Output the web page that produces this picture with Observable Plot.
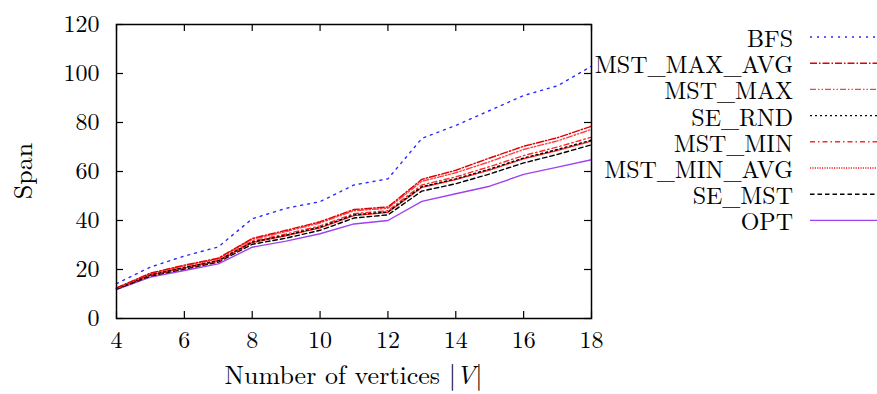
<!DOCTYPE html>
<html><head><meta charset="utf-8">
<script src="https://cdn.jsdelivr.net/npm/d3@7"></script>
<script src="https://cdn.jsdelivr.net/npm/@observablehq/plot@0.6"></script>
<style>
body{margin:0;background:#fff;}
#chart{position:relative;width:877px;height:394px;font-family:"Latin Modern Roman","Liberation Serif",serif;}
#chart svg, #chart svg text, #chart svg tspan{font-family:"Latin Modern Roman","Liberation Serif",serif !important;}
#overlay{position:absolute;left:0;top:0;pointer-events:none;}
</style></head><body><div id="chart"></div>
<script>
const vertices = [4,5,6,7,8,9,10,11,12,13,14,15,16,17,18];
const BFS         = [14.2,21.0,25.5,29.2,40.7,45.0,47.7,54.5,57.0,73.5,78.8,84.9,91.0,95.0,103.0];
const MST_MAX_AVG = [12.5,18.5,21.8,24.6,32.7,36.0,39.5,44.5,45.5,56.8,60.5,65.5,70.3,73.8,78.5];
const MST_MAX     = [12.4,18.3,21.5,24.3,32.3,35.5,39.0,44.0,45.0,56.0,59.5,64.0,69.0,72.5,77.2];
const SE_RND      = [12.2,17.8,20.8,23.6,31.2,34.0,37.3,42.3,43.5,53.8,57.0,61.0,65.5,69.0,72.8];
const MST_MIN     = [12.3,18.0,21.0,23.8,31.6,34.5,37.8,42.8,44.0,54.5,57.8,62.0,66.5,70.0,74.0];
const MST_MIN_AVG = [12.2,17.7,20.6,23.4,31.0,33.8,37.0,42.0,43.3,53.5,56.7,60.6,65.2,68.6,72.4];
const SE_MST      = [12.0,17.3,20.2,23.0,30.3,32.8,36.0,41.0,42.3,52.0,55.0,59.0,63.5,67.0,70.9];
const OPT         = [11.8,16.9,19.6,22.3,29.1,31.6,34.6,38.6,40.0,47.8,50.9,54.0,58.8,61.8,64.8];

const seriesNames  = ["BFS","MST_MAX_AVG","MST_MAX","SE_RND","MST_MIN","MST_MIN_AVG","SE_MST","OPT"];
const seriesValues = [BFS,MST_MAX_AVG,MST_MAX,SE_RND,MST_MIN,MST_MIN_AVG,SE_MST,OPT];
const seriesColors = ["#2a2aff","#e00000","#ff4040","#000000","#ff2a2a","#ff2020","#000000","#a040f0"];
const seriesDash   = ["2,5","7,2,1.5,2","6,2,1.5,2,1.5,2","2,3","5,3,1.5,3","1.2,1.2","4.5,3","none"];

const xTicks = [4,6,8,10,12,14,16,18];
const yTicks = [0,20,40,60,80,100,120];
const xLabel = "Number of vertices ";
const yLabel = "Span";

const FONT = "'Latin Modern Roman','Liberation Serif',serif";
const W = 877, H = 394, mL = 116, mR = 286, mT = 24, mB = 76;
const fw = W - mL - mR, fh = H - mT - mB, tk = 7;

const lines = seriesNames.map((name, k) => Plot.line(
  vertices.map((v, i) => ({series: name, x: v, y: seriesValues[k][i]})),
  {x: "x", y: "y", stroke: seriesColors[k], strokeWidth: 1.4,
   strokeDasharray: seriesDash[k] === "none" ? null : seriesDash[k]}
)).reverse();

const plot = Plot.plot({
  width: W, height: H,
  marginLeft: mL, marginRight: mR, marginTop: mT, marginBottom: mB,
  x: {domain: [4, 18]},
  y: {domain: [0, 120]},
  style: {fontFamily: FONT, fontSize: "24px", color: "black", background: "white"},
  marks: [
    ...lines,
    Plot.frame({stroke: "black", strokeWidth: 1.5}),
    Plot.tickX(xTicks, {x: d => d, insetTop: fh - tk, stroke: "black", strokeWidth: 1.2}),
    Plot.tickX(xTicks, {x: d => d, insetBottom: fh - tk, stroke: "black", strokeWidth: 1.2}),
    Plot.tickY(yTicks, {y: d => d, insetRight: fw - tk, stroke: "black", strokeWidth: 1.2}),
    Plot.tickY(yTicks, {y: d => d, insetLeft: fw - tk, stroke: "black", strokeWidth: 1.2}),
    Plot.axisX({ticks: xTicks, tickSize: 0, tickPadding: 12, label: null, fontSize: 24}),
    Plot.axisY({ticks: yTicks, tickSize: 0, tickPadding: 17, label: null, fontSize: 24})
  ]
});
const chart = document.getElementById("chart");
chart.appendChild(plot);

// Overlay: axis titles and legend
const svg = d3.select(chart).append("svg").attr("id", "overlay")
  .attr("width", W).attr("height", H)
  .attr("font-family", FONT).attr("font-size", 24);

svg.append("text").attr("transform", `translate(21,${mT + fh / 2}) rotate(-90)`)
  .attr("font-size", 26)
  .attr("text-anchor", "middle").attr("dominant-baseline", "central").text(yLabel);

const xl = svg.append("text").attr("x", mL + fw / 2).attr("y", 384)
  .attr("font-size", 26).attr("text-anchor", "middle");
xl.append("tspan").text(xLabel + "|");
xl.append("tspan").attr("font-style", "italic").text("V");
xl.append("tspan").text("|");

const lg = svg.append("g");
seriesNames.forEach((name, k) => {
  const y = 37 + 26.2 * k;
  lg.append("text").attr("x", 793).attr("y", y).attr("text-anchor", "end")
    .attr("dominant-baseline", "central").text(name);
  lg.append("line").attr("x1", 810).attr("x2", 877).attr("y1", y).attr("y2", y)
    .attr("stroke", seriesColors[k]).attr("stroke-width", 1.4)
    .attr("stroke-dasharray", seriesDash[k] === "none" ? null : seriesDash[k]);
});
</script></body></html>
